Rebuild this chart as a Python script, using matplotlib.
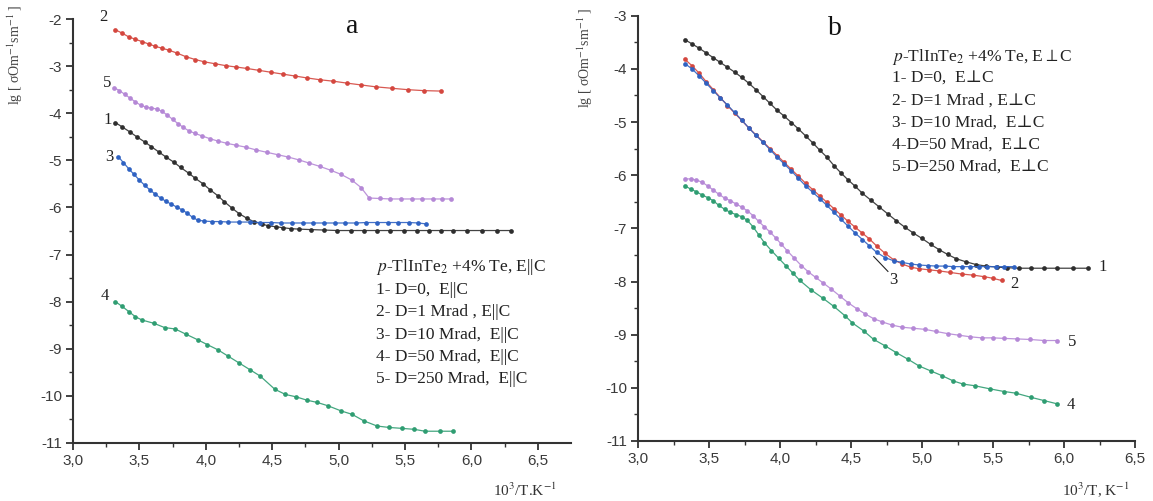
import matplotlib
matplotlib.use("Agg")
import matplotlib.pyplot as plt
from matplotlib.ticker import MultipleLocator, FixedLocator, FuncFormatter

plt.rcParams['mathtext.fontset'] = 'stix'

W, H = 1153, 501

# ---------------- Panel a (E || C) ----------------
a1_x = [3.32, 3.37, 3.43, 3.48, 3.54, 3.59, 3.65, 3.70, 3.76, 3.81, 3.87, 3.92, 3.98, 4.03, 4.09,
        4.14, 4.20, 4.25, 4.31, 4.36, 4.42, 4.47, 4.53, 4.58, 4.64, 4.70, 4.79, 4.89, 4.99, 5.09,
        5.19, 5.29, 5.39, 5.49, 5.59, 5.68, 5.77, 5.86, 5.97, 6.08, 6.19, 6.30]
a1_y = [-4.20, -4.29, -4.40, -4.50, -4.61, -4.71, -4.83, -4.93, -5.04, -5.15, -5.27, -5.38, -5.50, -5.62, -5.75,
        -5.88, -6.02, -6.13, -6.23, -6.30, -6.35, -6.39, -6.41, -6.43, -6.45, -6.46, -6.47, -6.48, -6.49, -6.49,
        -6.49, -6.49, -6.49, -6.49, -6.49, -6.49, -6.49, -6.49, -6.49, -6.49, -6.49, -6.49]

a2_x = [3.32, 3.37, 3.42, 3.47, 3.52, 3.57, 3.62, 3.67, 3.72, 3.78, 3.85, 3.92, 3.99, 4.07, 4.15, 4.23,
        4.31, 4.40, 4.49, 4.58, 4.67, 4.76, 4.86, 4.96, 5.06, 5.17, 5.28, 5.40, 5.52, 5.64, 5.77]
a2_y = [-2.23, -2.30, -2.38, -2.43, -2.48, -2.53, -2.58, -2.62, -2.66, -2.72, -2.80, -2.86, -2.91, -2.95, -2.99, -3.02,
        -3.05, -3.09, -3.13, -3.17, -3.21, -3.25, -3.29, -3.32, -3.36, -3.40, -3.44, -3.47, -3.50, -3.52, -3.53]

a3_x = [3.34, 3.38, 3.42, 3.46, 3.50, 3.54, 3.58, 3.62, 3.66, 3.70, 3.74, 3.78, 3.82, 3.86, 3.90, 3.94,
        3.99, 4.05, 4.11, 4.17, 4.25, 4.33, 4.41, 4.49, 4.57, 4.65, 4.73, 4.81, 4.89, 4.97, 5.05, 5.13,
        5.21, 5.29, 5.37, 5.45, 5.53, 5.60, 5.66]
a3_y = [-4.92, -5.05, -5.18, -5.30, -5.42, -5.53, -5.63, -5.72, -5.80, -5.87, -5.93, -5.99, -6.05, -6.12, -6.21, -6.27,
        -6.29, -6.30, -6.30, -6.31, -6.31, -6.31, -6.32, -6.32, -6.33, -6.33, -6.33, -6.33, -6.33, -6.33, -6.33, -6.33,
        -6.32, -6.32, -6.32, -6.32, -6.32, -6.33, -6.35]

a4_x = [3.32, 3.37, 3.42, 3.47, 3.52, 3.61, 3.69, 3.77, 3.85, 3.94, 4.01, 4.09, 4.17, 4.25, 4.33, 4.41,
        4.52, 4.60, 4.68, 4.76, 4.84, 4.92, 5.02, 5.10, 5.19, 5.29, 5.38, 5.48, 5.57, 5.65, 5.76, 5.86]
a4_y = [-8.00, -8.10, -8.21, -8.32, -8.39, -8.46, -8.55, -8.58, -8.69, -8.81, -8.91, -9.02, -9.16, -9.30, -9.44, -9.58,
        -9.86, -9.97, -10.02, -10.09, -10.14, -10.21, -10.32, -10.39, -10.53, -10.64, -10.67, -10.69, -10.71, -10.75, -10.75, -10.75]

a5_x = [3.31, 3.35, 3.39, 3.43, 3.47, 3.51, 3.55, 3.59, 3.63, 3.67, 3.71, 3.75, 3.79, 3.83, 3.87, 3.92,
        3.97, 4.03, 4.09, 4.16, 4.23, 4.30, 4.38, 4.46, 4.54, 4.62, 4.70, 4.78, 4.86, 4.94, 5.02, 5.10,
        5.17, 5.23, 5.31, 5.39, 5.47, 5.55, 5.63, 5.71, 5.78, 5.85]
a5_y = [-3.46, -3.52, -3.60, -3.68, -3.76, -3.83, -3.87, -3.89, -3.91, -3.96, -4.04, -4.13, -4.22, -4.30, -4.37, -4.43,
        -4.48, -4.54, -4.59, -4.64, -4.68, -4.72, -4.78, -4.83, -4.88, -4.93, -4.99, -5.06, -5.13, -5.21, -5.30, -5.42,
        -5.58, -5.80, -5.81, -5.82, -5.82, -5.82, -5.82, -5.82, -5.82, -5.82]

# ---------------- Panel b (E perpendicular C) ----------------
b1_x = [3.33, 3.38, 3.43, 3.48, 3.53, 3.58, 3.63, 3.68, 3.73, 3.78, 3.83, 3.88, 3.93, 3.98, 4.03, 4.08,
        4.13, 4.18, 4.23, 4.28, 4.33, 4.38, 4.43, 4.48, 4.53, 4.58, 4.64, 4.70, 4.76, 4.82, 4.88, 4.94,
        5.00, 5.06, 5.12, 5.18, 5.24, 5.31, 5.38, 5.45, 5.53, 5.60, 5.68, 5.77, 5.86, 5.95, 6.06, 6.17]
b1_y = [-3.45, -3.53, -3.61, -3.70, -3.79, -3.88, -3.97, -4.06, -4.16, -4.27, -4.39, -4.52, -4.65, -4.78, -4.89, -5.01,
        -5.13, -5.26, -5.39, -5.53, -5.66, -5.82, -5.96, -6.09, -6.21, -6.34, -6.47, -6.60, -6.73, -6.86, -6.98, -7.09,
        -7.19, -7.30, -7.40, -7.49, -7.57, -7.63, -7.68, -7.71, -7.73, -7.74, -7.75, -7.75, -7.75, -7.75, -7.75, -7.75]

b2_x = [3.33, 3.38, 3.43, 3.48, 3.53, 3.58, 3.63, 3.68, 3.73, 3.78, 3.83, 3.88, 3.93, 3.98, 4.03, 4.08,
        4.13, 4.18, 4.23, 4.28, 4.33, 4.38, 4.43, 4.48, 4.53, 4.58, 4.63, 4.68, 4.74, 4.80, 4.86, 4.92,
        4.98, 5.05, 5.12, 5.20, 5.28, 5.36, 5.44, 5.50, 5.56]
b2_y = [-3.82, -3.94, -4.08, -4.24, -4.39, -4.54, -4.69, -4.83, -4.97, -5.11, -5.24, -5.37, -5.50, -5.63, -5.76, -5.89,
        -6.02, -6.15, -6.27, -6.39, -6.51, -6.63, -6.75, -6.87, -6.98, -7.09, -7.20, -7.33, -7.47, -7.59, -7.67, -7.73,
        -7.76, -7.78, -7.80, -7.83, -7.86, -7.88, -7.91, -7.94, -7.98]

b3_x = [3.33, 3.38, 3.43, 3.48, 3.53, 3.58, 3.63, 3.68, 3.73, 3.78, 3.83, 3.88, 3.93, 3.98, 4.03, 4.08,
        4.13, 4.18, 4.23, 4.28, 4.33, 4.38, 4.43, 4.48, 4.53, 4.58, 4.63, 4.68, 4.74, 4.80, 4.86, 4.92,
        4.98, 5.04, 5.10, 5.16, 5.22, 5.28, 5.34, 5.40, 5.46, 5.52, 5.58, 5.65]
b3_y = [-3.90, -4.00, -4.13, -4.27, -4.41, -4.55, -4.68, -4.82, -4.96, -5.11, -5.25, -5.38, -5.52, -5.66, -5.79, -5.92,
        -6.06, -6.20, -6.32, -6.44, -6.57, -6.70, -6.83, -6.96, -7.09, -7.21, -7.33, -7.45, -7.55, -7.61, -7.64, -7.67,
        -7.69, -7.70, -7.71, -7.71, -7.72, -7.72, -7.72, -7.72, -7.72, -7.72, -7.72, -7.72]

b4_x = [3.33, 3.37, 3.41, 3.45, 3.49, 3.53, 3.57, 3.61, 3.65, 3.69, 3.73, 3.77, 3.81, 3.85, 3.89, 3.94,
        3.99, 4.04, 4.09, 4.14, 4.22, 4.30, 4.38, 4.46, 4.51, 4.59, 4.66, 4.74, 4.82, 4.90, 4.98, 5.06,
        5.14, 5.22, 5.29, 5.37, 5.48, 5.58, 5.66, 5.77, 5.86, 5.95]
b4_y = [-6.20, -6.26, -6.31, -6.37, -6.42, -6.48, -6.57, -6.64, -6.70, -6.74, -6.78, -6.85, -6.97, -7.12, -7.27, -7.42,
        -7.56, -7.70, -7.84, -7.98, -8.16, -8.31, -8.47, -8.65, -8.78, -8.93, -9.09, -9.21, -9.34, -9.46, -9.59, -9.68,
        -9.77, -9.87, -9.93, -9.96, -10.02, -10.07, -10.10, -10.18, -10.24, -10.30]

b5_x = [3.33, 3.37, 3.41, 3.45, 3.49, 3.53, 3.57, 3.61, 3.65, 3.69, 3.73, 3.77, 3.81, 3.85, 3.89, 3.93,
        3.97, 4.01, 4.05, 4.10, 4.15, 4.20, 4.25, 4.30, 4.36, 4.42, 4.48, 4.54, 4.60, 4.66, 4.72, 4.79,
        4.86, 4.94, 5.02, 5.10, 5.18, 5.26, 5.34, 5.42, 5.50, 5.58, 5.67, 5.76, 5.86, 5.95]
b5_y = [-6.07, -6.07, -6.09, -6.13, -6.20, -6.28, -6.36, -6.43, -6.48, -6.54, -6.60, -6.67, -6.76, -6.87, -6.97, -7.07,
        -7.18, -7.30, -7.42, -7.56, -7.70, -7.82, -7.92, -8.02, -8.14, -8.27, -8.40, -8.51, -8.61, -8.70, -8.76, -8.82,
        -8.86, -8.88, -8.90, -8.94, -8.98, -9.01, -9.04, -9.06, -9.06, -9.07, -9.08, -9.09, -9.11, -9.11]

legend_a = ["$\\it{p}$-TlInTe$_2$ +4% Te, E||C", "1- D=0,  E||C", "2- D=1 Mrad , E||C",
            "3- D=10 Mrad,  E||C", "4- D=50 Mrad,  E||C", "5- D=250 Mrad,  E||C"]
legend_b = ["$\\it{p}$-TlInTe$_2$ +4% Te, E$\\perp$C", "1- D=0,  E⊥C", "2- D=1 Mrad , E⊥C",
            "3- D=10 Mrad,  E⊥C", "4-D=50 Mrad,  E⊥C", "5-D=250 Mrad,  E⊥C"]

C_BLACK = '#2e2e2e'
C_RED = '#d4473f'
C_BLUE = '#2f62c2'
C_GREEN = '#2f9d72'
C_PURPLE = '#b588d6'

SERIF = ['Liberation Serif', 'DejaVu Serif']
SANS = ['Liberation Sans', 'DejaVu Sans']
AXC = '#333333'

fig = plt.figure(figsize=(W / 100, H / 100), dpi=100)
axa = fig.add_axes([73 / W, 1 - 443 / H, (571 - 73) / W, (443 - 19) / H])
axb = fig.add_axes([638 / W, 1 - 441 / H, (1135 - 638) / W, (441 - 15.7) / H])

comma = FuncFormatter(lambda v, p: ("%.1f" % v).replace('.', ','))
intfmt = FuncFormatter(lambda v, p: "%d" % round(v))


def style(ax, xlim, ylim):
    ax.set_xlim(*xlim)
    ax.set_ylim(*ylim)
    for s in ['top', 'right']:
        ax.spines[s].set_visible(False)
    for s in ['left', 'bottom']:
        ax.spines[s].set_color(AXC)
        ax.spines[s].set_linewidth(1.5)
    ax.xaxis.set_major_locator(FixedLocator([3.0, 3.5, 4.0, 4.5, 5.0, 5.5, 6.0, 6.5]))
    ax.xaxis.set_minor_locator(FixedLocator([3.25, 3.75, 4.25, 4.75, 5.25, 5.75, 6.25]))
    ax.yaxis.set_major_locator(MultipleLocator(1))
    ax.yaxis.set_minor_locator(MultipleLocator(0.5))
    ax.xaxis.set_major_formatter(comma)
    ax.yaxis.set_major_formatter(intfmt)
    ax.tick_params(which='major', direction='out', length=5, width=1.3, color=AXC,
                   labelsize=11, labelcolor='#3a3a3a', pad=3)
    ax.tick_params(which='minor', direction='out', length=3, width=1.0, color=AXC)
    for lab in ax.get_xticklabels() + ax.get_yticklabels():
        lab.set_family(SANS)
    ax.patch.set_alpha(0)


def series(ax, x, y, c):
    ax.plot(x, y, '-', color=c, lw=0.9, alpha=0.9, clip_on=False)
    ax.plot(x, y, 'o', color=c, ms=3.4, mew=0, clip_on=False)


style(axa, (3.0, 6.75), (-11, -2))
style(axb, (3.0, 6.5), (-11, -3))

series(axa, a2_x, a2_y, C_RED)
series(axa, a5_x, a5_y, C_PURPLE)
series(axa, a1_x, a1_y, C_BLACK)
series(axa, a3_x, a3_y, C_BLUE)
series(axa, a4_x, a4_y, C_GREEN)

series(axb, b5_x, b5_y, C_PURPLE)
series(axb, b4_x, b4_y, C_GREEN)
series(axb, b1_x, b1_y, C_BLACK)
series(axb, b2_x, b2_y, C_RED)
series(axb, b3_x, b3_y, C_BLUE)

# curve numbers
for (x, y, t) in [(3.23, -1.95, '2'), (3.26, -3.36, '5'), (3.26, -4.14, '1'),
                  (3.27, -4.92, '3'), (3.24, -7.89, '4')]:
    axa.text(x, y, t, ha='center', va='center', fontsize=12, family=SERIF, color='#222')
for (x, y, t) in [(6.27, -7.72, '1'), (5.65, -8.05, '2'), (6.06, -9.13, '5'), (6.05, -10.33, '4')]:
    axb.text(x, y, t, ha='center', va='center', fontsize=12, family=SERIF, color='#222')
axb.plot([4.66, 4.76], [-7.53, -7.81], color='#222', lw=0.8)
axb.text(4.80, -7.98, '3', ha='center', va='center', fontsize=12, family=SERIF, color='#222')

axa.text(5.10, -2.16, 'a', ha='center', va='center', fontsize=20, family=SERIF, color='#111')
axb.text(4.39, -3.25, 'b', ha='center', va='center', fontsize=20, family=SERIF, color='#111')

# legend-like annotation blocks
ya = [-7.27, -7.75, -8.22, -8.70, -9.18, -9.65]
for t, y in zip(legend_a, ya):
    axa.text(5.28, y, t, ha='left', va='center', fontsize=12.5, family=SERIF, color='#222')
yb = [-3.78, -4.19, -4.60, -5.01, -5.42, -5.83]
for t, y in zip(legend_b, yb):
    axb.text(4.79, y, t, ha='left', va='center', fontsize=12.5, family=SERIF, color='#222')

# axis titles
ylab = 'lg [ σOm$^{-1}$sm$^{-1}$ ]'
fig.text(15 / W, 1 - 55 / H, ylab, rotation=90, ha='center', va='center',
         fontsize=10, family=SERIF, color='#444')
fig.text(585 / W, 1 - 58 / H, ylab, rotation=90, ha='center', va='center',
         fontsize=10, family=SERIF, color='#444')
fig.text(525 / W, 1 - 490 / H, '10$^3$/T.K$^{-1}$', ha='center', va='center',
         fontsize=11, family=SERIF, color='#333')
fig.text(1096 / W, 1 - 490 / H, '10$^3$/T, K$^{-1}$', ha='center', va='center',
         fontsize=11, family=SERIF, color='#333')

fig.savefig('out.png', dpi=100)
